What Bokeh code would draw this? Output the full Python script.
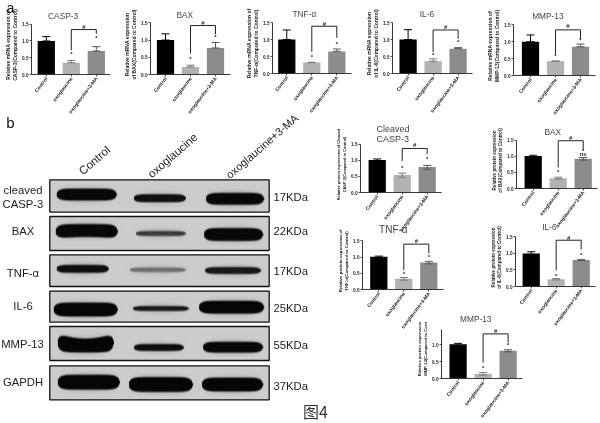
import math
import numpy as np
from bokeh.embed import file_html
from bokeh.resources import INLINE
from bokeh.core.properties import value
from bokeh.layouts import column
from bokeh.models import Range1d, FixedTicker, NumeralTickFormatter
from bokeh.plotting import figure

categories = ["Control", "oxoglaucine", "oxoglaucine+3-MA"]
tick_values = [0, 0.5, 1.0, 1.5]

# bar heights, error bar ends (upper / lower)
casp3_mrna = [1.0, 0.35, 0.70];  casp3_mrna_up = [1.13, 0.42, 0.83];  casp3_mrna_lo = [1.0, 0.35, 0.70]
bax_mrna = [1.0, 0.22, 0.77];    bax_mrna_up = [1.18, 0.27, 0.93];    bax_mrna_lo = [1.0, 0.22, 0.77]
tnf_mrna = [1.0, 0.32, 0.65];    tnf_mrna_up = [1.28, 0.33, 0.72];    tnf_mrna_lo = [1.0, 0.32, 0.65]
il6_mrna = [1.0, 0.36, 0.73];    il6_mrna_up = [1.29, 0.43, 0.76];    il6_mrna_lo = [1.0, 0.36, 0.73]
mmp_mrna = [1.0, 0.42, 0.85];    mmp_mrna_up = [1.20, 0.43, 0.93];    mmp_mrna_lo = [1.0, 0.42, 0.85]
casp3_prot = [1.01, 0.54, 0.79]; casp3_prot_up = [1.04, 0.60, 0.84];  casp3_prot_lo = [0.98, 0.47, 0.72]
bax_prot = [1.01, 0.32, 0.92];   bax_prot_up = [1.03, 0.35, 0.96];    bax_prot_lo = [0.99, 0.29, 0.88]
tnf_prot = [1.01, 0.33, 0.83];   tnf_prot_up = [1.03, 0.37, 0.87];    tnf_prot_lo = [0.99, 0.29, 0.79]
il6_prot = [1.00, 0.22, 0.80];   il6_prot_up = [1.05, 0.24, 0.82];    il6_prot_lo = [0.97, 0.20, 0.78]
mmp_prot = [1.01, 0.14, 0.82];   mmp_prot_up = [1.04, 0.18, 0.85];    mmp_prot_lo = [0.98, 0.10, 0.79]

# significance marks: bracket top, left leg end, right leg end, star 2, star 3, hash
marks_mrna = [[1.34, 0.72, 1.21, 0.60, 1.08, 1.43], [1.42, 0.61, 1.17, 0.45, 1.10, 1.49],
              [1.39, 0.64, 1.05, 0.49, 0.88, 1.47], [1.28, 0.63, 1.02, 0.53, 0.92, 1.38],
              [1.35, 0.64, 1.08, 0.57, 1.04, 1.45]]
marks_prot = [[1.365, 0.98, 1.19, 0.75, 1.03, 1.47], [1.48, 0.65, 1.20, 0.50, 1.16, 1.58],
              [1.40, 0.60, 1.11, 0.49, 0.99, 1.49], [1.40, 0.49, 1.12, 0.32, 0.95, 1.48],
              [1.32, 0.47, 1.07, 0.30, 1.00, 1.40]]

bar_colors = ["#000000", "#b2b2b2", "#8c8c8c"]
err_colors = ["#000000", "#777777", "#555555"]
FONT = "Liberation Sans"

W, H = 600, 423
L, R, T, B = 34, 16, 34, 52
BLUR = "blur(0.4px)"


def chart(title, ylab, vals, ups, los, marks, axis_x, y15, y0, bar1,
          title_xy, title_size=8.3, ylab_size=5, xlab_size=5, tick_size=4.7,
          ticks=tick_values, axis_top=1.5, extra=None, xlab_angle=0.92):
    per_unit = (y0 - y15) / 1.5
    fh = int(round((y0 - y15) + 0.25 * per_unit))
    fw = int(round(bar1 + 50 + 14.5 - axis_x))
    step = 25.0
    x0 = 1 - (bar1 - axis_x) / step
    p = figure(width=L + fw + R, height=T + fh + B, output_backend="svg", toolbar_location=None,
               x_range=Range1d(x0, x0 + fw / step), y_range=Range1d(0, fh / per_unit),
               min_border_left=L, min_border_right=R, min_border_top=T, min_border_bottom=B,
               background_fill_color=None, border_fill_color=None, outline_line_color=None,
               styles={"position": "absolute", "left": f"{axis_x - L:.1f}px",
                       "top": f"{y0 - fh - T:.1f}px", "filter": BLUR})
    p.grid.visible = False
    xs = [1, 2, 3]
    p.vbar(x=xs, top=vals, width=0.69, color=bar_colors, line_color=None)
    p.segment(x0=xs, x1=xs, y0=los, y1=ups, line_color=err_colors, line_width=1)
    cap = 0.16
    p.segment(x0=[x - cap for x in xs], x1=[x + cap for x in xs], y0=ups, y1=ups,
              line_color=err_colors, line_width=1)
    p.segment(x0=[x - cap for x in xs], x1=[x + cap for x in xs], y0=los, y1=los,
              line_color=err_colors, line_width=1)
    top, left, right, s2, s3, hsh = marks
    p.line([2, 2, 3, 3], [left, top, top, right], line_color="#222222", line_width=1)
    p.text(x=[2, 3], y=[s2, s3], text=["*", "*"], text_font=value(FONT), text_font_size="6px",
           text_font_style="bold", text_align="center", text_baseline="middle", text_color="#222222")
    p.text(x=[2.5], y=[hsh], text=["#"], text_font=value(FONT), text_font_size="6px",
           text_font_style="bold", text_align="center", text_baseline="middle", text_color="#222222")
    if extra:
        p.text(x=[3], y=[extra[1]], text=[extra[0]], text_font=value(FONT), text_font_size="6px",
               text_font_style="bold", text_align="center", text_baseline="middle", text_color="#222222")
    xa, ya = p.xaxis[0], p.yaxis[0]
    xa.ticker = FixedTicker(ticks=xs)
    xa.major_label_overrides = {i + 1: c for i, c in enumerate(categories)}
    xa.major_label_orientation = xlab_angle
    xa.major_label_text_font = FONT
    xa.major_label_text_font_style = "bold"
    xa.major_label_text_font_size = f"{xlab_size}px"
    xa.major_label_text_color = "#222222"
    xa.major_label_standoff = 1
    ya.ticker = FixedTicker(ticks=ticks)
    ya.formatter = NumeralTickFormatter(format="0.0")
    ya.bounds = (0, axis_top)
    ya.major_label_text_font = FONT
    ya.major_label_text_font_style = "bold"
    ya.major_label_text_font_size = f"{tick_size}px"
    ya.major_label_text_color = "#222222"
    ya.major_label_standoff = 1
    ya.axis_label = ylab
    ya.axis_label_text_font = FONT
    ya.axis_label_text_font_style = "bold"
    ya.axis_label_text_font_size = f"{ylab_size}px"
    ya.axis_label_text_color = "#222222"
    ya.axis_label_standoff = 1
    for a in (xa, ya):
        a.major_tick_in = 0
        a.major_tick_out = 2
        a.minor_tick_in = 0
        a.minor_tick_out = 0
        a.axis_line_width = 0.9
        a.axis_line_color = "#222222"
        a.major_tick_line_color = "#222222"
        a.major_tick_line_width = 0.8
    p.title.text = title
    p.title.text_font = FONT
    p.title.text_font_style = "normal"
    p.title.text_font_size = f"{title_size}px"
    p.title.text_color = "#444444"
    p.title.align = "left"
    p.title.offset = title_xy[0] - axis_x
    nlines = title.count("\n") + 1
    p.title.standoff = int(round((y0 - fh) - title_xy[1] - nlines * title_size * 0.6))
    return p


charts = [
    chart("CASP-3", "Relative mRNA expression of\nCASP-3(Compared to Control)", casp3_mrna, casp3_mrna_up, casp3_mrna_lo,
          marks_mrna[0], 30.7, 23.7, 74.0, 45.5, (47.3, 20)),
    chart("BAX", "Relative mRNA expression\nof BAX(Compared to Control)", bax_mrna, bax_mrna_up, bax_mrna_lo,
          marks_mrna[1], 150.0, 22.0, 73.7, 165.0, (176, 19)),
    chart("TNF-α", "Relative mRNA expression of\nTNF-α(Compared to Control)", tnf_mrna, tnf_mrna_up, tnf_mrna_lo,
          marks_mrna[2], 271.7, 22.3, 73.3, 286.0, (291.7, 19)),
    chart("IL-6", "Relative mRNA expression\nof IL-6(Compared to Control)", il6_mrna, il6_mrna_up, il6_mrna_lo,
          marks_mrna[3], 391.7, 22.0, 73.0, 407.3, (419, 19)),
    chart("MMP-13", "Relative mRNA expression of\nMMP-13(Compared to Control)", mmp_mrna, mmp_mrna_up, mmp_mrna_lo,
          marks_mrna[4], 513.0, 24.0, 74.7, 530.0, (531.7, 19)),
    chart("Cleaved\nCASP-3", "Relative protein expression of Cleaved\nCASP-3(Compared to Control)", casp3_prot, casp3_prot_up, casp3_prot_lo,
          marks_prot[0], 360.0, 143.3, 191.7, 376.7, (376, 140), title_size=9, ylab_size=3.9),
    chart("BAX", "Relative protein expression\nof BAX(Compared to Control)", bax_prot, bax_prot_up, bax_prot_lo,
          marks_prot[1], 516.0, 139.3, 187.7, 532.7, (544, 134.5), ylab_size=4.6, extra=("ns", 1.08)),
    chart("TNF-α", "Relative protein expression of\nTNF-α(Compared to Control)", tnf_prot, tnf_prot_up, tnf_prot_lo,
          marks_prot[2], 361.7, 240.7, 289.3, 378.0, (378.3, 230), title_size=10, ylab_size=4.4),
    chart("IL-6", "Relative protein expression\nof IL-6(Compared to Control)", il6_prot, il6_prot_up, il6_prot_lo,
          marks_prot[3], 515.0, 236.7, 286.3, 530.7, (541.7, 230), ylab_size=4.6),
    chart("MMP-13", "Relative protein expression\nMMP-13(Compared to Cont", mmp_prot, mmp_prot_up, mmp_prot_lo,
          marks_prot[4], 440.7, 327.0, 377.7, 457.3, (459.3, 322), ylab_size=4.2, ticks=[0, 0.5, 1.0], axis_top=1.45),
]

# ---- western blot panel -------------------------------------------------
blot_tops = [179.3, 216.0, 254.3, 290.7, 326.0, 365.3]
blot_bottoms = [211.7, 250.0, 286.0, 321.7, 360.0, 399.3]
blot_names = ["cleaved\nCASP-3", "BAX", "TNF-α", "IL-6", "MMP-13", "GAPDH"]
name_y = [196.3, 230.0, 272.3, 305.7, 343.3, 381.7]
name_x = [22.5, 22.5, 22.5, 22.5, 22.0, 22.5]
kda_labels = ["17KDa", "22KDa", "17KDa", "25KDa", "55KDa", "37KDa"]
kda_y = [196.0, 230.0, 270.7, 307.7, 344.3, 385.7]
# band: x start, x end, centre y, half thickness, darkness, bend
bands = [
    (56, 116, 194.0, 6.0, 8, 0), (133, 185, 197.7, 4.0, 16, 0), (205, 263, 198.3, 6.0, 8, 0),
    (55, 117, 230.0, 6.5, 8, -1), (135, 185, 233.0, 2.5, 60, 0), (203, 262, 234.0, 6.5, 8, 0),
    (56, 108, 268.3, 4.0, 14, 0), (129, 185, 269.3, 2.2, 110, 0), (204, 260, 270.0, 3.5, 24, 0),
    (53, 117, 309.0, 7.0, 6, 0), (132, 188, 308.0, 2.5, 24, 0), (198, 263, 306.7, 6.5, 6, 0),
    (57, 113, 345.0, 7.0, 6, 3), (133, 183, 347.0, 3.5, 14, 0), (202, 262, 346.7, 5.5, 8, 0),
    (57, 119, 381.7, 7.5, 6, 0), (128, 192, 384.0, 7.5, 6, 0), (201, 262, 384.0, 7.0, 6, 0),
]
BLOT_X0, BLOT_X1 = 49.3, 268.7
BLOT_BG = 205

SC = 3
ny = int((blot_bottoms[-1] - blot_tops[0]) * SC)
nx = int((BLOT_X1 - BLOT_X0) * SC)
py = blot_tops[0] + (np.arange(ny) + 0.5) / SC
px = BLOT_X0 + (np.arange(nx) + 0.5) / SC
XX, YY = np.meshgrid(px, py)
gray = np.full((ny, nx), 255.0)
for t, b in zip(blot_tops, blot_bottoms):
    inside = (YY >= t) & (YY <= b) & (XX >= BLOT_X0) & (XX <= BLOT_X1)
    gray[inside] = BLOT_BG
for x0, x1, yc, hw, dark, bend in bands:
    u = (XX - (x0 + x1) / 2) / ((x1 - x0) / 2)
    env = np.sqrt(np.clip(1 - np.abs(u) ** 8, 0, 1))
    hh = hw * env * (1 + 0.35 * abs(bend) / 3 * u ** 2)
    cy = yc - bend * u ** 2
    d = np.abs(YY - cy)
    soft = 1.1
    mask = np.clip((hh + soft - d) / (2 * soft), 0, 1) * (np.abs(u) < 1)
    halo = np.exp(-(np.maximum(d - hh, 0) / 3.0) ** 2) * np.clip(1.15 - np.abs(u), 0, 1) * 0.2
    near = (d < hw + 9) & (np.abs(u) < 1.15) & (gray < 255)
    gray = np.where(near, np.minimum(gray, BLOT_BG * (1 - halo) + 90 * halo), gray)
    gray = gray * (1 - mask) + dark * mask
g8 = gray.astype(np.uint32)
rgba = (255 << 24) | (g8 << 16) | (g8 << 8) | g8

left_w = 338
blot = figure(width=L + left_w + R, height=H, output_backend="svg", toolbar_location=None,
              x_range=Range1d(0, left_w), y_range=Range1d(H, 0),
              min_border_left=L, min_border_right=R, min_border_top=0, min_border_bottom=0,
              background_fill_color=None, border_fill_color=None, outline_line_color=None,
              x_axis_location=None, y_axis_location=None,
              styles={"position": "absolute", "left": f"{-L}px", "top": "0px", "filter": "blur(0.25px)"})
blot.grid.visible = False
blot.image_rgba(image=[rgba], x=BLOT_X0, y=blot_tops[0], dw=BLOT_X1 - BLOT_X0,
                dh=blot_bottoms[-1] - blot_tops[0])
blot.quad(left=[BLOT_X0] * 6, right=[BLOT_X1] * 6, top=blot_tops,
          bottom=blot_bottoms, fill_color=None, line_color="#111111", line_width=1.3)


def txt(x, y, s, size, align="center", angle=0.0, font=FONT, color="#222222", baseline="middle"):
    blot.text(x=[x], y=[y], text=[s], text_font=value(font), text_font_size=f"{size}px",
              text_align=align, text_baseline=baseline, angle=[angle], text_color=color)


for nm, ny_, nx_ in zip(blot_names, name_y, name_x):
    txt(nx_, ny_, nm, 11.3)
for k, ky in zip(kda_labels, kda_y):
    txt(273, ky, k, 11.3, align="left")
rot = math.radians(41)
txt(80, 172, categories[0], 11.5, align="left", angle=rot)
txt(149, 175, categories[1], 11.5, align="left", angle=rot)
txt(227, 175.7, categories[2], 11, align="left", angle=rot)
txt(10, 121.5, "b", 15, color="#111111")
txt(10, 7.5, "a", 14, color="#111111")
txt(315, 410, "图4", 16, font="Noto Sans CJK SC", color="#333333")

root = column(children=[blot] + charts, width=W, height=H,
              styles={"position": "absolute", "left": "0px", "top": "0px"})
open("out.html", "w").write(file_html(root, INLINE))
